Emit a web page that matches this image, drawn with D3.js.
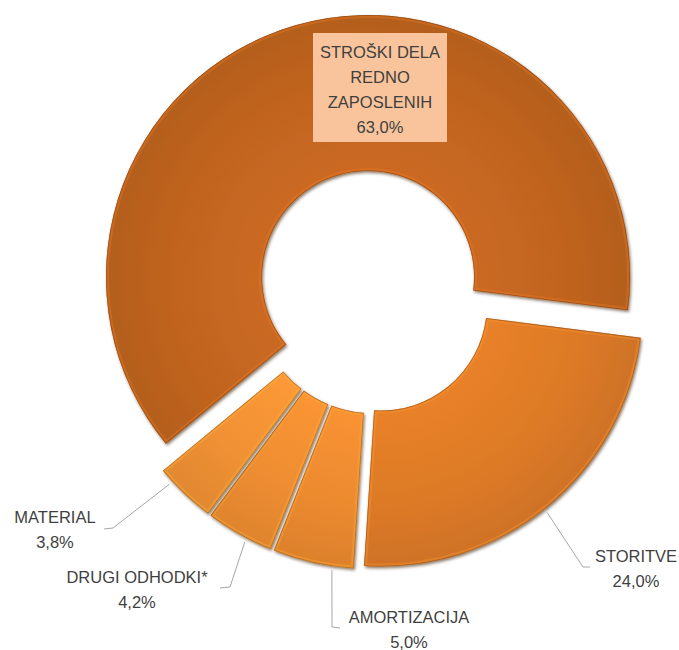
<!DOCTYPE html>
<html><head><meta charset="utf-8">
<script src="https://cdn.jsdelivr.net/npm/d3@7"></script>
<style>
body{margin:0;background:#fff}
svg{display:block}
text{font-family:"Liberation Sans",Arial,sans-serif;fill:#3F3F3F;font-size:16.5px}
</style>
</head><body>
<svg id="c" width="679" height="650"></svg>
<script>
// ---- data ----
const categories = ["STROŠKI DELA REDNO ZAPOSLENIH", "STORITVE", "AMORTIZACIJA", "DRUGI ODHODKI*", "MATERIAL"];
const labelLines = [["STROŠKI DELA", "REDNO", "ZAPOSLENIH"], ["STORITVE"], ["AMORTIZACIJA"], ["DRUGI ODHODKI*"], ["MATERIAL"]];
const values = [63.0, 24.0, 5.0, 4.2, 3.8];

// ---- style / layout ----
const colors = ["#C0641F", "#DD7A27", "#EC8A2F", "#EE8D31", "#F09134"];
const cx = 373.3, cy = 295.3, R = 262, r = 106;
const explode = [19, 12, 12, 12, 12];
const startDeg = 230.5;
const lineH = 25;
const labelLayout = [
  {x: 380, y: 58, box: [313, 33, 134, 109]},
  {x: 636, y: 562, frac: 0.51, elbow: [[583, 567], [590, 567]]},
  {x: 409, y: 623, frac: 0.26, elbow: [[332, 627], [340, 628]]},
  {x: 137, y: 583, frac: 0.38, elbow: [[230, 587], [220, 588]]},
  {x: 55,  y: 523, frac: 0.77, elbow: [[113, 528], [104, 529]]}
];

const fmtLocale = d3.formatLocale({decimal: ",", thousands: ".", grouping: [3], currency: ["", "€"]});
const fmt = fmtLocale.format(".1f");

const svg = d3.select("#c");
const defs = svg.append("defs");
const f = defs.append("filter").attr("id", "sh").attr("x", "-20%").attr("y", "-20%").attr("width", "140%").attr("height", "140%");
f.append("feDropShadow").attr("dx", 1.2).attr("dy", 1.8).attr("stdDeviation", 1.6)
  .attr("flood-color", "#3a1a00").attr("flood-opacity", 0.6);

const start = startDeg * Math.PI / 180;
const pie = d3.pie().sort(null).value(d => d).startAngle(start).endAngle(start + 2 * Math.PI);
const arcs = pie(values);
const arc = d3.arc().innerRadius(r).outerRadius(R);

const offset = (d, i) => {
  const a = (d.startAngle + d.endAngle) / 2;
  return [cx + explode[i] * Math.sin(a), cy - explode[i] * Math.cos(a)];
};

const g = svg.append("g");
arcs.forEach((d, i) => {
  const [ox, oy] = offset(d, i);
  const gi = g.append("g").attr("transform", `translate(${ox},${oy})`);
  const cid = "clip" + i;
  defs.append("clipPath").attr("id", cid).append("path").attr("d", arc(d));
  const gid = "grad" + i;
  const base = d3.color(colors[i]);
  const rg = defs.append("radialGradient").attr("id", gid)
    .attr("gradientUnits", "userSpaceOnUse").attr("cx", 0).attr("cy", 0).attr("r", R);
  rg.append("stop").attr("offset", r / R).attr("stop-color", base.brighter(0.15));
  rg.append("stop").attr("offset", 0.75).attr("stop-color", base);
  rg.append("stop").attr("offset", 1).attr("stop-color", base.darker(0.18));
  gi.append("path").attr("d", arc(d)).attr("fill", `url(#${gid})`).attr("filter", "url(#sh)");
  gi.append("path").attr("d", arc(d)).attr("fill", "none")
    .attr("stroke", base.brighter(0.6)).attr("stroke-width", 6).attr("stroke-opacity", 0.35)
    .attr("clip-path", `url(#${cid})`);
  gi.append("path").attr("d", arc(d)).attr("fill", "none")
    .attr("stroke", base.darker(1.3)).attr("stroke-width", 1.6).attr("stroke-opacity", 0.6)
    .attr("clip-path", `url(#${cid})`);
});

// labels
arcs.forEach((d, i) => {
  const L = labelLayout[i];
  const lines = labelLines[i].concat([fmt(values[i]) + "%"]);
  if (L.box) {
    svg.append("rect").attr("x", L.box[0]).attr("y", L.box[1]).attr("width", L.box[2]).attr("height", L.box[3])
      .attr("fill", "#F9C49B");
  }
  if (L.elbow) {
    const [ox, oy] = offset(d, i);
    const a = d.startAngle + L.frac * (d.endAngle - d.startAngle);
    const p0 = [ox + (R + 4) * Math.sin(a), oy - (R + 4) * Math.cos(a)];
    svg.append("path").attr("d", d3.line()([p0].concat(L.elbow)))
      .attr("fill", "none").attr("stroke", "#A6A6A6").attr("stroke-width", 1);
  }
  const t = svg.append("text").attr("text-anchor", "middle");
  lines.forEach((s, k) => {
    t.append("tspan").attr("x", L.x).attr("y", L.y + k * lineH).text(s);
  });
});
</script>
</body></html>
